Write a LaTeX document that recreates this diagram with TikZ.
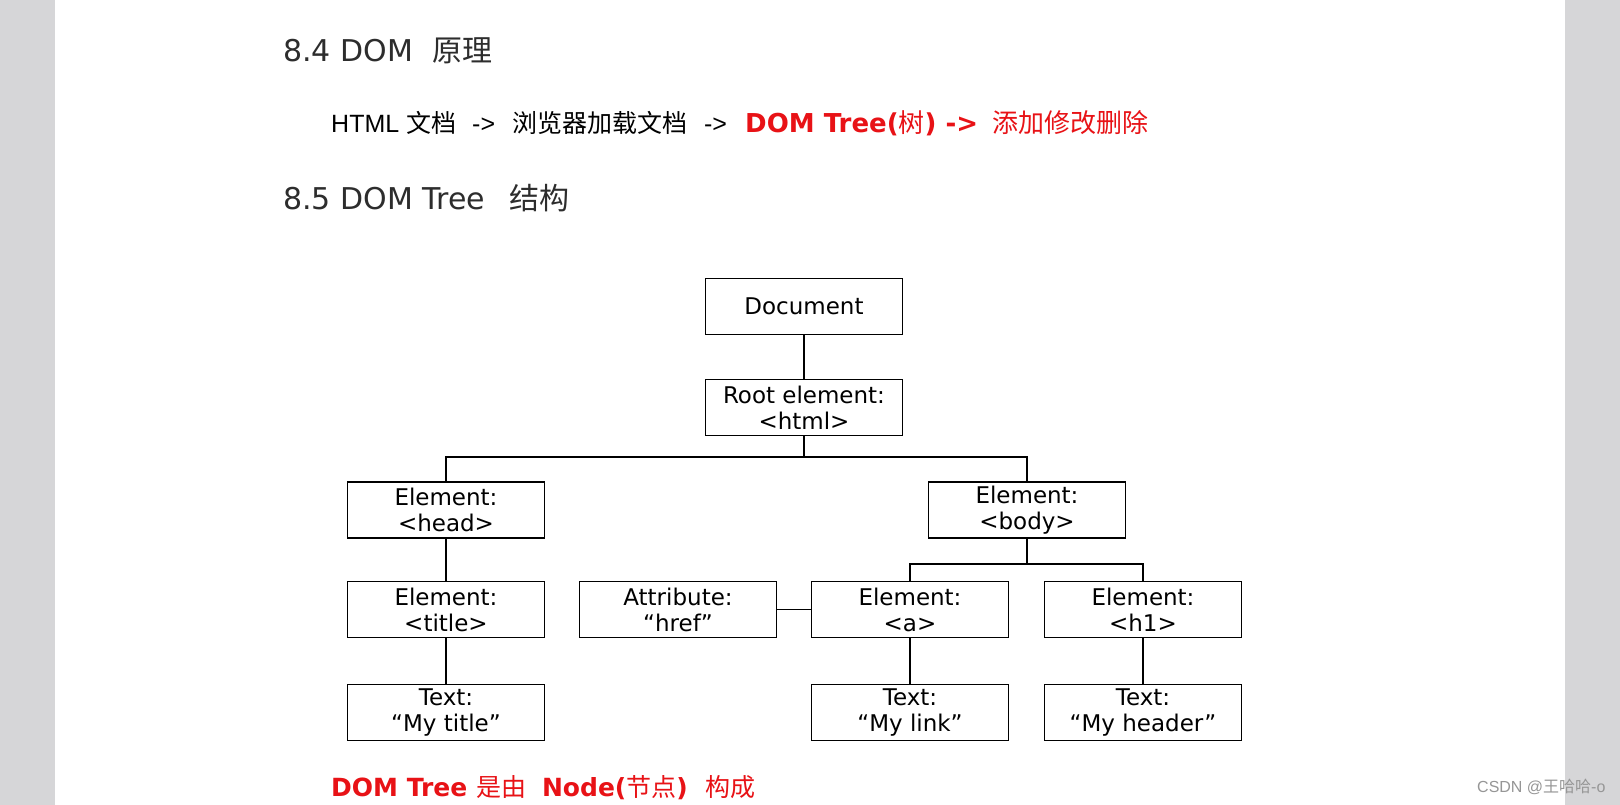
\documentclass[tikz,border=0pt]{standalone}
\usepackage{fontspec}
\setmainfont{DejaVu Sans}
\newfontfamily\cjkfont{Noto Sans CJK SC}
\newfontfamily\arialfont{Liberation Sans}
\usepackage{tikz}
\usetikzlibrary{positioning}
\definecolor{side_gray}{RGB}{214,214,216}
\definecolor{title_gray}{RGB}{45,45,45}
\definecolor{note_red}{RGB}{232,18,22}
\definecolor{mark_gray}{RGB}{150,150,150}
\newcommand{\zh}[1]{{\cjkfont\mdseries #1}}
\tikzset{
  dom_box/.style={rectangle, draw=black, line width=1.6pt, minimum width=197pt, minimum height=56pt, inner sep=0pt, align=center, font=\fontsize{23}{26}\selectfont},
  tree_line/.style={-, line width=1.6pt, black},
  heading_text/.style={anchor=base west, inner sep=0pt, text=title_gray, font=\fontsize{30}{36}\selectfont},
  flow_text/.style={anchor=base west, inner sep=0pt, font=\arialfont\fontsize{25}{30}\selectfont},
  red_text/.style={anchor=base west, inner sep=0pt, text=note_red, font=\bfseries\fontsize{26}{30}\selectfont},
  mark_text/.style={anchor=base west, inner sep=0pt, text=mark_gray, font=\arialfont\fontsize{16}{19}\selectfont}
}

\begin{document}
\begin{tikzpicture}[x=1pt, y=-1pt]

  % Page with gray side bands
  \useasboundingbox (0,0) rectangle (1620,805);
  \fill[white] (0,0) rectangle (1620,805);
  \fill[side_gray] (0,0) rectangle (55,805);
  \fill[side_gray] (1565,0) rectangle (1620,805);

  % Headings and text lines
  \node[heading_text] (sec_principle) at (283,61.5) {8.4 DOM\ \ \zh{原理}};
  \node[flow_text] (flow_line) at (331,133) {HTML \zh{文档}\hspace{16pt}->\hspace{17pt}\zh{浏览器加载文档}\hspace{17pt}->};
  \node[red_text] (flow_red) at (745,133) {DOM Tree(\zh{树}) ->\hspace{14pt}\zh{添加修改删除}};
  \node[heading_text] (sec_tree) at (283,209.5) {8.5 DOM Tree\hspace{24pt}\zh{结构}};

  % Tree nodes
  \node[dom_box] (doc) at (804,306.5) {Document};
  \node[dom_box] (root) at (804,407.5) {Root element:\\<html>};
  \node[dom_box] (head) at (446,510) {Element:\\<head>};
  \node[dom_box] (body) at (1027,510) {Element:\\<body>};
  \node[dom_box] (title) at (446,609.5) {Element:\\<title>};
  \node[dom_box] (attr) at (678,609.5) {Attribute:\\“href”};
  \node[dom_box] (elem_a) at (910,609.5) {Element:\\<a>};
  \node[dom_box] (elem_h1) at (1143,609.5) {Element:\\<h1>};
  \node[dom_box] (text_title) at (446,712.5) {Text:\\“My title”};
  \node[dom_box] (text_link) at (910,712.5) {Text:\\“My link”};
  \node[dom_box] (text_header) at (1143,712.5) {Text:\\“My header”};

  % Bus points
  \coordinate (html_bus) at (804,457);
  \coordinate (body_bus) at (1027,564);

  % Connectors
  \draw[tree_line] (doc) -- (root);
  \draw[tree_line] (root) -- (html_bus);
  \draw[tree_line] (head.north) |- (html_bus) -| (body.north);
  \draw[tree_line] (head) -- (title);
  \draw[tree_line] (title) -- (text_title);
  \draw[tree_line] (body) -- (body_bus);
  \draw[tree_line] (elem_a.north) |- (body_bus) -| (elem_h1.north);
  \draw[tree_line] (attr) -- (elem_a);
  \draw[tree_line] (elem_a) -- (text_link);
  \draw[tree_line] (elem_h1) -- (text_header);

  % Note and watermark
  \node[red_text, font=\bfseries\fontsize{25}{29}\selectfont] (tree_note) at (331,796.5) {DOM Tree \zh{是由}\hspace{16pt}Node(\zh{节点})\hspace{18pt}\zh{构成}};
  \node[mark_text] (csdn_mark) at (1477,792.5) {CSDN @\zh{王哈哈}-o};

\end{tikzpicture}
\end{document}
